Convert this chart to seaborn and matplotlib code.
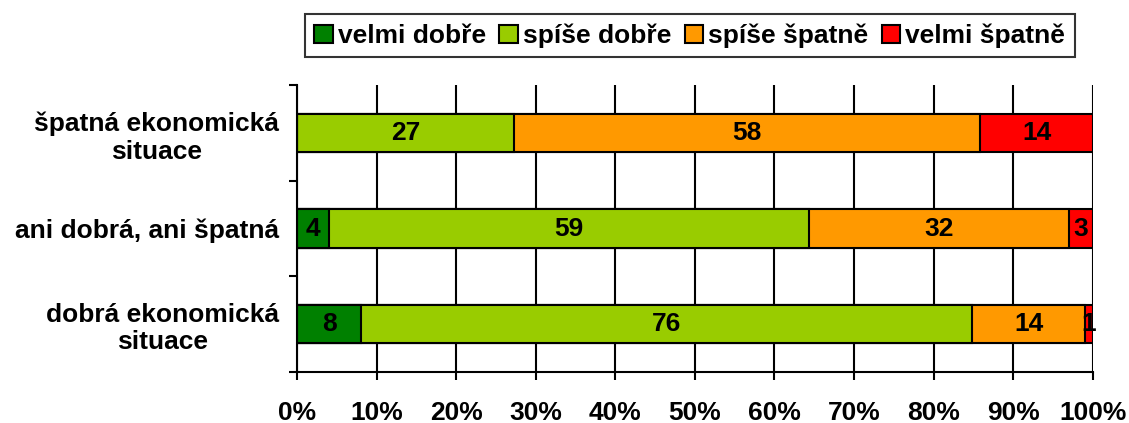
import numpy as np
import pandas as pd
import matplotlib
matplotlib.use("Agg")
import matplotlib.pyplot as plt
import seaborn as sns
from matplotlib.patches import Patch

# data
groups = ["špatná ekonomická\nsituace", "ani dobrá, ani špatná", "dobrá ekonomická\nsituace"]
answers = ["velmi dobře", "spíše dobře", "spíše špatně", "velmi špatně"]
velmi_dobre = [0, 4, 8]
spise_dobre = [27, 59, 76]
spise_spatne = [58, 32, 14]
velmi_spatne = [14, 3, 1]
colors = ["#008000", "#99CC00", "#FF9900", "#FF0000"]

vals = np.array([velmi_dobre, spise_dobre, spise_spatne, velmi_spatne], dtype=float)
pct = vals / vals.sum(axis=0) * 100
cum = np.cumsum(pct, axis=0)

sns.set_style("white")
plt.rcParams["font.family"] = ["Liberation Sans", "DejaVu Sans"]
plt.rcParams["font.weight"] = "bold"
plt.rcParams["text.color"] = "black"
plt.rcParams["xtick.color"] = "black"
plt.rcParams["ytick.color"] = "black"

fig = plt.figure(figsize=(11.29, 4.23), dpi=100)
ax = fig.add_axes([0.263, 0.1206, 0.705, 0.678])

# stacked bars drawn back to front (cumulative overlay)
for i in range(3, -1, -1):
    df = pd.DataFrame({"grp": groups, "x": cum[i]})
    sns.barplot(data=df, x="x", y="grp", order=groups, color=colors[i],
                orient="h", width=0.4, edgecolor="black", linewidth=1.5,
                saturation=1, ax=ax)

# value labels
for i in range(4):
    for j in range(3):
        if vals[i, j] == 0:
            continue
        center = cum[i, j] - pct[i, j] / 2
        ax.text(center, j, f"{int(vals[i, j])}", ha="center", va="center",
                fontsize=19, fontweight="bold", color="black")

ax.set_xlim(0, 100)
ax.set_ylim(2.5, -0.5)
ax.set_xticks(np.arange(0, 101, 10))
ax.set_xticklabels([f"{t}%" for t in range(0, 101, 10)], fontsize=19, fontweight="bold")
ax.xaxis.grid(True, color="black", linewidth=1.5)
ax.set_axisbelow(True)

ax.set_yticks([-0.5, 0.5, 1.5, 2.5])
ax.set_yticklabels([])
ax.set_yticks([0, 1, 2], minor=True)
ax.set_yticklabels(groups, minor=True, fontsize=19, fontweight="bold",
                   multialignment="center")
ax.tick_params(axis="y", which="major", direction="out", length=6, width=1.5, left=True)
ax.tick_params(axis="y", which="minor", length=0, pad=13)
ax.tick_params(axis="x", direction="out", length=6, width=1.5, bottom=True, pad=15)

ax.set_xlabel("")
ax.set_ylabel("")
for s in ["top", "right"]:
    ax.spines[s].set_visible(False)
for s in ["left", "bottom"]:
    ax.spines[s].set_color("black")
    ax.spines[s].set_linewidth(1.5)

handles = [Patch(facecolor=c, edgecolor="black", linewidth=1.5) for c in colors]
leg = fig.legend(handles, answers, loc="center", bbox_to_anchor=(0.611, 0.915),
                 ncol=4, frameon=True, fancybox=False, edgecolor="black",
                 prop={"size": 19, "weight": "bold"}, handlelength=0.7,
                 handleheight=0.7, handletextpad=0.2, columnspacing=0.5,
                 borderpad=0.35)
leg.get_frame().set_linewidth(1.5)

fig.savefig("out.png", dpi=100)
